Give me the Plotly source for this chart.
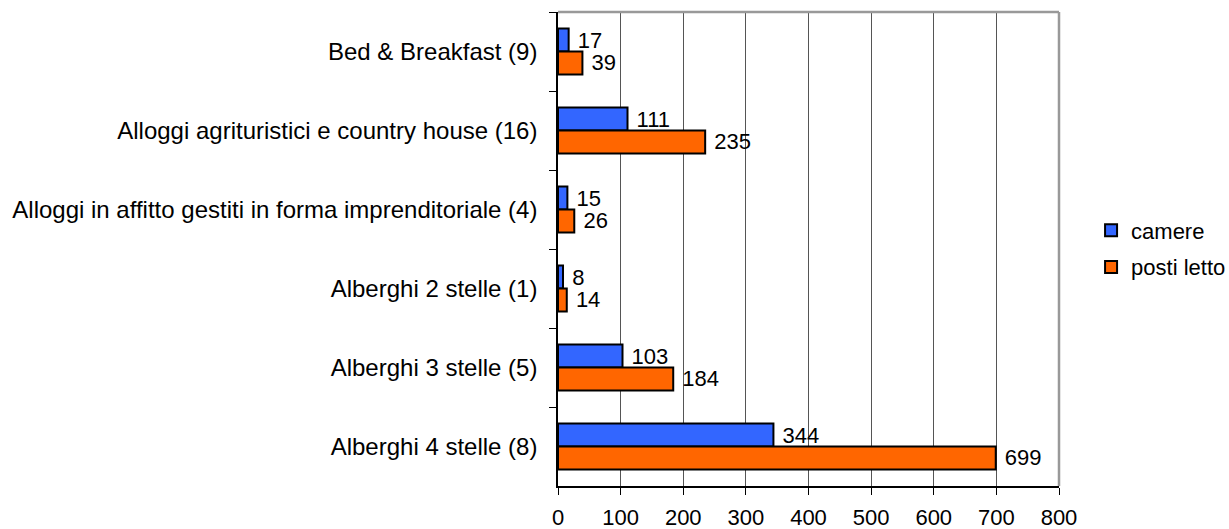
import plotly.graph_objects as go

categories = [
    "Bed & Breakfast (9)",
    "Alloggi agrituristici e country house (16)",
    "Alloggi in affitto gestiti in forma imprenditoriale (4)",
    "Alberghi 2 stelle (1)",
    "Alberghi 3 stelle (5)",
    "Alberghi 4 stelle (8)",
]
camere = [17, 111, 15, 8, 103, 344]
posti_letto = [39, 235, 26, 14, 184, 699]
x_ticks = [0, 100, 200, 300, 400, 500, 600, 700, 800]

FONT = "Liberation Sans, Arial, sans-serif"

fig = go.Figure()
fig.add_trace(go.Bar(
    y=categories, x=camere, orientation="h", name="camere", legendgroup="a",
    marker=dict(color="#3366FF", line=dict(color="black", width=2)),
    text=camere, texttemplate=" %{x}", textposition="outside", constraintext="none",
    textfont=dict(size=22, color="black", family=FONT), cliponaxis=False,
))
fig.add_trace(go.Bar(
    y=categories, x=posti_letto, orientation="h", name="posti letto", legendgroup="b",
    marker=dict(color="#FF6600", line=dict(color="black", width=2)),
    text=posti_letto, texttemplate=" %{x}", textposition="outside", constraintext="none",
    textfont=dict(size=22, color="black", family=FONT), cliponaxis=False,
))

# gray frame on the top and right edges of the plot area
fig.add_shape(type="line", xref="x domain", yref="y domain", x0=0, x1=1, y0=1, y1=1,
              line=dict(color="#999999", width=2.5), layer="above")
fig.add_shape(type="line", xref="x domain", yref="y domain", x0=1, x1=1, y0=0, y1=1,
              line=dict(color="#999999", width=2.5), layer="above")

fig.update_layout(
    width=1229, height=529,
    margin=dict(l=558, r=170, t=12, b=43, autoexpand=False),
    paper_bgcolor="white", plot_bgcolor="white",
    barmode="group", bargap=0.42, bargroupgap=0,
    font=dict(family=FONT, size=22, color="black"),
    showlegend=True,
    legend=dict(x=1.064, y=0.5, xanchor="left", yanchor="middle",
                font=dict(size=22), itemwidth=30, tracegroupgap=5,
                traceorder="grouped"),
    uniformtext=dict(mode=False),
)
fig.update_xaxes(
    range=[0, 800], tickvals=x_ticks, ticktext=[str(v) for v in x_ticks],
    tickfont=dict(size=22), automargin=False,
    showgrid=True, gridcolor="#555555", gridwidth=1,
    showline=True, linecolor="black", linewidth=1.5,
    ticks="outside", ticklen=7, tickcolor="black",
    ticklabelstandoff=4, zeroline=False,
)
fig.update_yaxes(
    categoryorder="array", categoryarray=categories, autorange="reversed",
    tickfont=dict(size=24), automargin=False,
    showgrid=False, tickson="boundaries",
    showline=True, linecolor="black", linewidth=1.5,
    ticks="outside", ticklen=7, tickcolor="black",
    ticklabelstandoff=14,
)

fig.write_html("out.html")
